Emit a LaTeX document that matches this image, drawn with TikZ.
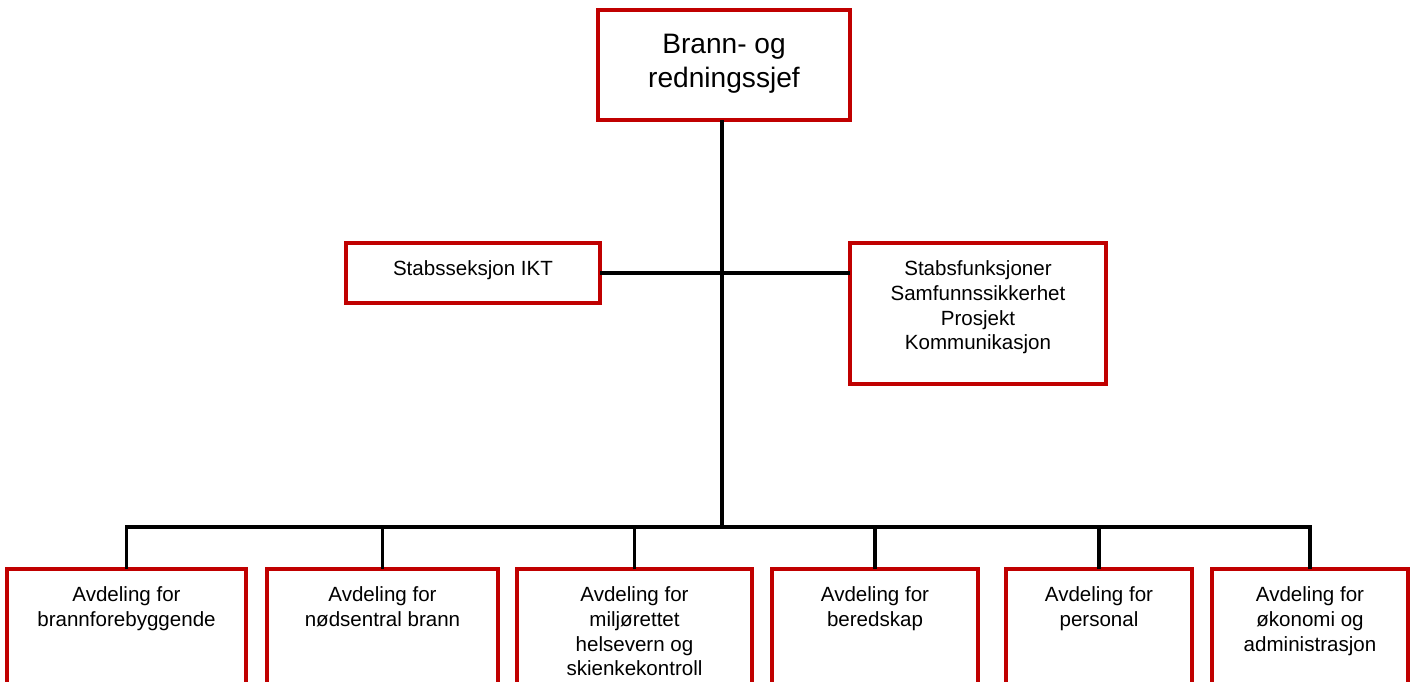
\documentclass[tikz,border=0pt]{standalone}
\usepackage{fontspec}
\setmainfont{Liberation Sans}
\usepackage{tikz}
\usetikzlibrary{positioning}
\definecolor{orgred}{RGB}{192,0,0}

\begin{document}
\begin{tikzpicture}[x=0.02cm, y=-0.02cm,
    unit/.style 2 args={draw=orgred, line width=2.2pt, outer sep=0pt, inner sep=0pt,
        minimum width=#1*0.02cm, minimum height=#2*0.02cm},
    lbl/.style={anchor=north, inner sep=0pt, align=center,
        font=\fontsize{11.7}{14.2}\selectfont, yshift=-9.6pt},
    biglbl/.style={lbl, font=\fontsize{16}{19.5}\selectfont, yshift=-3.8pt},
    link/.style={line width=2.2pt}]
    \clip (0,0) rectangle (1418,682);
    % management and staff
    \node[unit={252}{110}, label={[biglbl]north:Brann- og\\redningssjef}] (chief) at (724,65) {};
    \node[unit={254}{60}, label={[lbl]north:Stabsseksjon IKT}] (ikt) at (473,273) {};
    \node[unit={256}{141}, label={[lbl]north:Stabsfunksjoner\\Samfunnssikkerhet\\Prosjekt\\Kommunikasjon}] (staff) at (978,313.5) {};

    % departments
    \foreach \name/\cx/\w/\txt in {
        dept1/126.5/239/{Avdeling for\\brannforebyggende},
        dept2/382.5/231/{Avdeling for\\nødsentral brann},
        dept3/634.5/235/{Avdeling for\\miljørettet\\helsevern og\\skienkekontroll},
        dept4/875/206/{Avdeling for\\beredskap},
        dept5/1099/186/{Avdeling for\\personal},
        dept6/1310/196/{Avdeling for\\økonomi og\\administrasjon}}
        \node[unit={\w}{140}, label={[lbl]north:\txt}] (\name) at (\cx,639) {};

    \coordinate (bus) at (722,527);
    \draw[link] (chief.south -| bus) -- (bus);
    \draw[link] (ikt.east) -- (ikt.east -| staff.west);
    \draw[link] (dept1.north) -- (dept1.north |- bus) -- (dept6.north |- bus) -- (dept6.north);
    \foreach \name in {dept2,dept3,dept4,dept5}
        \draw[link] (\name.north |- bus) -- (\name.north);
\end{tikzpicture}
\end{document}
